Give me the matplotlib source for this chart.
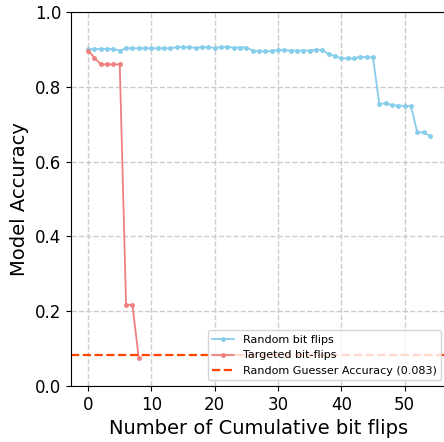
import matplotlib
matplotlib.use("Agg")
import matplotlib.pyplot as plt

# ── Data ──────────────────────────────────────────────────────────
random_flips = [
    0.901, 0.901, 0.901, 0.901, 0.901, 0.897, 0.903, 0.903, 0.903, 0.903,
    0.903, 0.903, 0.903, 0.903, 0.906, 0.906, 0.906, 0.904, 0.906, 0.906,
    0.904, 0.906, 0.906, 0.905, 0.905, 0.905, 0.897, 0.895, 0.895, 0.895,
    0.899, 0.898, 0.897, 0.897, 0.897, 0.897, 0.899, 0.899, 0.887, 0.882,
    0.876, 0.876, 0.876, 0.881, 0.879, 0.879, 0.754, 0.756, 0.751, 0.750,
    0.749, 0.749, 0.678, 0.678, 0.669,
]
targeted_flips = [0.897, 0.878, 0.860, 0.860, 0.860, 0.860, 0.217, 0.217, 0.075]
random_guess = 0.083

x_random = list(range(len(random_flips)))
x_targeted = list(range(len(targeted_flips)))

# ── Plot ──────────────────────────────────────────────────────────
fig = plt.figure(figsize=(4.44, 4.42), dpi=100)
ax = fig.add_axes([71 / 444, 56 / 442, 376 / 444, 374 / 442])

ax.plot(x_random, random_flips, color="skyblue", marker="o", markersize=2.5,
        lw=1.3, label="Random bit flips")
ax.plot(x_targeted, targeted_flips, color="lightcoral", marker="o", markersize=2.5,
        lw=1.3, label="Targeted bit-flips")
ax.axhline(random_guess, color="orangered", ls="--", lw=1.6,
           label=f"Random Guesser Accuracy ({random_guess})")

ax.set_ylim(0, 1.0)
ax.set_xlim(-2.7, 56.7)
ax.grid(True, ls="--", color="#cccccc", lw=1)
ax.set_xlabel("Number of Cumulative bit flips", fontsize=14)
ax.set_ylabel("Model Accuracy", fontsize=14)
ax.tick_params(labelsize=12)
ax.legend(loc="lower right", fontsize=8, framealpha=0.8)

fig.savefig("out.png", dpi=100)
